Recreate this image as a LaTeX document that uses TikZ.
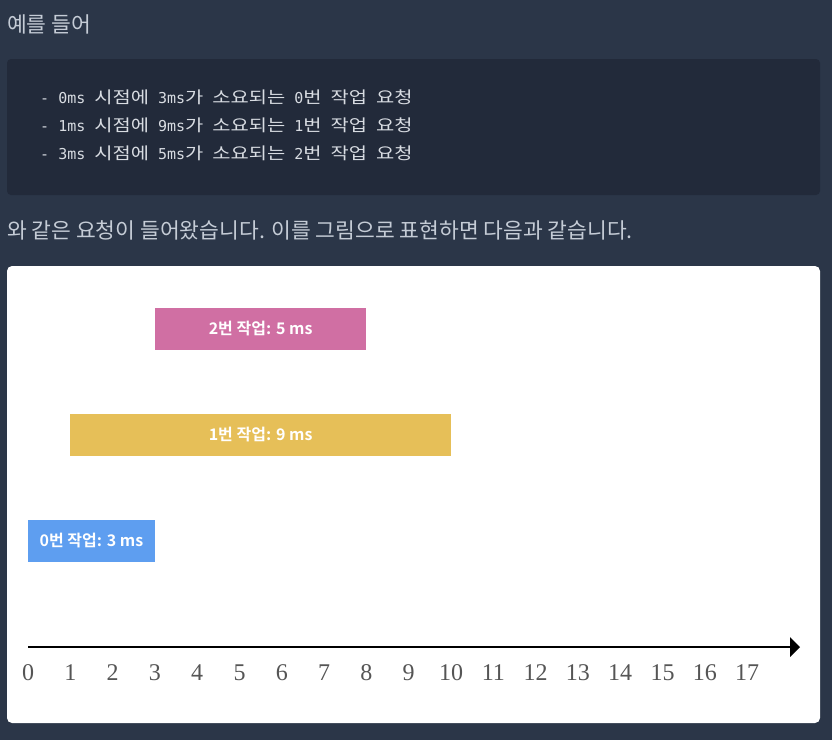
\documentclass[tikz,border=0pt]{standalone}
\usepackage{fontspec}
\setmainfont{Liberation Serif}
\setmonofont{DejaVu Sans Mono}
\newfontfamily\kr{Noto Sans CJK KR}
\newfontfamily\krbold{Noto Sans CJK KR Bold}
\newfontfamily\krcode[Scale=1.1, FakeStretch=1.2]{Noto Sans CJK KR}
\usetikzlibrary{arrows}
\definecolor{pagebg}{HTML}{2B3648}
\definecolor{codebg}{HTML}{222A3A}
\definecolor{prose}{HTML}{C5CCD6}
\definecolor{codefg}{HTML}{D8DCE2}
\definecolor{job0}{HTML}{5E9EF0}
\definecolor{job1}{HTML}{E6BF58}
\definecolor{job2}{HTML}{D06FA3}
\definecolor{tickfg}{HTML}{555555}
\newcommand{\ko}[1]{{\krcode #1}}

\begin{document}
\begin{tikzpicture}[x=1pt, y=-1pt, >=triangle 90,
  prose/.style={anchor=west, inner sep=0pt, text=prose, font=\kr\fontsize{21.5}{24}\selectfont},
  codeline/.style={anchor=west, inner sep=0pt, text=codefg, font=\ttfamily\fontsize{15}{18}\selectfont},
  job/.style={rectangle, inner sep=0pt, minimum height=42pt, text=white, font=\krbold\fontsize{16}{18}\selectfont},
  tick/.style={inner sep=0pt, text=tickfg, font=\fontsize{24}{26}\selectfont}]
\fill [pagebg] (0,0) rectangle (832,740);
% text above the picture
\node [prose] (intro) at (7,24) {예를 들어};
\fill [codebg, rounded corners=4pt] (7,59) rectangle (820,195);
\foreach \id/\st/\du in {0/0/3, 1/1/9, 2/3/5}
  \node [codeline] (req\id) at (40,97+28*\id)
    {- {\st}ms \ko{시점에} {\du}ms\ko{가} \ko{소요되는} {\id}\ko{번} \ko{작업} \ko{요청}};
\node [prose] (outro) at (7,230) {와 같은 요청이 들어왔습니다. 이를 그림으로 표현하면 다음과 같습니다.};
% the picture
\fill [white, rounded corners=5pt] (7,266) rectangle (820,723);
\foreach \id/\st/\du/\y in {0/0/3/541, 1/1/9/435, 2/3/5/329}
  \node [job, fill=job\id, minimum width=\du*42.3pt] (job\id) at ({28+42.3*(\st+\du/2)},\y) {{\id}번 작업: {\du} ms};
\coordinate (t0) at (28,647);
\coordinate (tend) at (800,647);
\draw [->, line width=2.5pt] (t0) -- (tend);
\foreach \t in {0,...,17}
  \node [tick] (tick\t) at ({28+42.3*\t},673) {\t};
\end{tikzpicture}
\end{document}
